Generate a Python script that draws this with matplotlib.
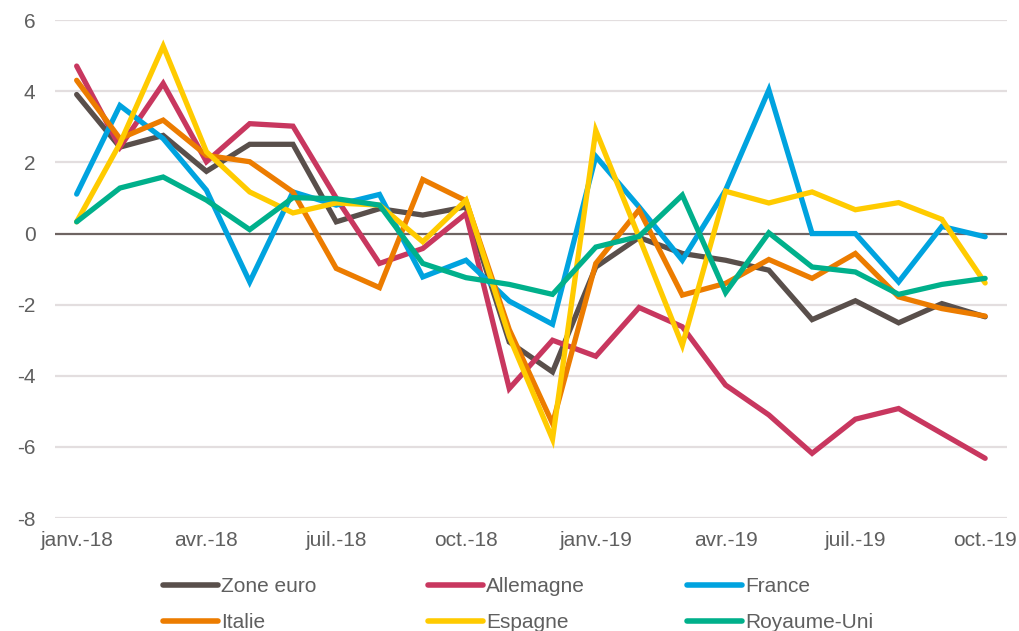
import matplotlib
matplotlib.use("Agg")
import matplotlib.pyplot as plt

plt.rcParams['font.family'] = ['Liberation Sans', 'DejaVu Sans']

months = ["janv.-18", "févr.-18", "mars-18", "avr.-18", "mai-18", "juin-18",
          "juil.-18", "août-18", "sept.-18", "oct.-18", "nov.-18", "déc.-18",
          "janv.-19", "févr.-19", "mars-19", "avr.-19", "mai-19", "juin-19",
          "juil.-19", "août-19", "sept.-19", "oct.-19"]

zone_euro = [3.91, 2.43, 2.76, 1.75, 2.51, 2.51, 0.33, 0.70, 0.52, 0.75, -3.05, -3.89,
             -0.94, -0.11, -0.56, -0.75, -1.03, -2.42, -1.89, -2.51, -1.97, -2.34]
allemagne = [4.71, 2.43, 4.22, 2.02, 3.09, 3.02, 1.00, -0.84, -0.42, 0.56, -4.36, -3.00,
             -3.45, -2.08, -2.62, -4.26, -5.10, -6.18, -5.22, -4.92, -5.62, -6.32]
france = [1.11, 3.60, 2.67, 1.22, -1.36, 1.17, 0.80, 1.10, -1.22, -0.75, -1.90, -2.55,
          2.17, 0.75, -0.75, 1.22, 4.04, 0.00, 0.00, -1.36, 0.20, -0.09]
italie = [4.31, 2.67, 3.19, 2.20, 2.02, 1.17, -0.98, -1.52, 1.52, 0.92, -2.70, -5.34,
          -0.84, 0.67, -1.73, -1.40, -0.73, -1.26, -0.56, -1.78, -2.11, -2.32]
espagne = [0.33, 2.53, 5.27, 2.30, 1.17, 0.58, 0.86, 0.80, -0.23, 0.94, -2.90, -5.78,
           2.90, -0.10, -3.14, 1.19, 0.86, 1.17, 0.67, 0.87, 0.40, -1.39]
royaume_uni = [0.33, 1.28, 1.59, 0.94, 0.11, 1.01, 0.98, 0.80, -0.84, -1.24, -1.43, -1.71,
               -0.38, -0.08, 1.08, -1.66, 0.02, -0.94, -1.08, -1.71, -1.43, -1.26]

series_names = ["Zone euro", "Allemagne", "France", "Italie", "Espagne", "Royaume-Uni"]
series_values = [zone_euro, allemagne, france, italie, espagne, royaume_uni]
colors = ["#594F4B", "#C8375F", "#00A3DF", "#EC7C00", "#FFCB00", "#00B08B"]

y_ticks = [6, 4, 2, 0, -2, -4, -6, -8]
x_tick_idx = [0, 3, 6, 9, 12, 15, 18, 21]

fig = plt.figure(figsize=(10.19, 6.31), dpi=100)
ax = fig.add_axes([0.054, 0.179, 0.934, 0.789])

x = list(range(len(months)))
for yv in y_ticks:
    if yv == 0:
        ax.axhline(yv, color="#6E6462", lw=1.6, zorder=1)
    else:
        ax.axhline(yv, color="#E3DEDF", lw=1.6, zorder=0)

handles = []
for name, vals, c in zip(series_names, series_values, colors):
    ln, = ax.plot(x, vals, color=c, lw=3.8, solid_joinstyle="miter",
                  solid_capstyle="round", label=name, zorder=3)
    handles.append(ln)

ax.set_xlim(-0.5, 21.5)
ax.set_ylim(-8, 6)
ax.set_yticks(y_ticks)
ax.set_yticklabels([str(v) for v in y_ticks])
ax.set_xticks(x_tick_idx)
ax.set_xticklabels([months[i] for i in x_tick_idx])
ax.tick_params(length=0, labelsize=15, colors="#5F5F5F")
ax.tick_params(axis="x", pad=9)
ax.tick_params(axis="y", pad=14)
for s in ax.spines.values():
    s.set_visible(False)

col_x = [163 / 1019, 428 / 1019, 687 / 1019]
for ci in range(3):
    hs = [handles[ci], handles[ci + 3]]
    leg = fig.legend(hs, [h.get_label() for h in hs], loc="center left",
                     bbox_to_anchor=(col_x[ci], 1 - 604.5 / 631), frameon=False,
                     handlelength=2.65, handletextpad=0.15, borderpad=0, borderaxespad=0,
                     labelspacing=0.8, fontsize=15, labelcolor="#5F5F5F")
    for lh in leg.get_lines():
        lh.set_linewidth(4.0)
        lh.set_solid_capstyle("round")

fig.savefig("out.png", dpi=100)
